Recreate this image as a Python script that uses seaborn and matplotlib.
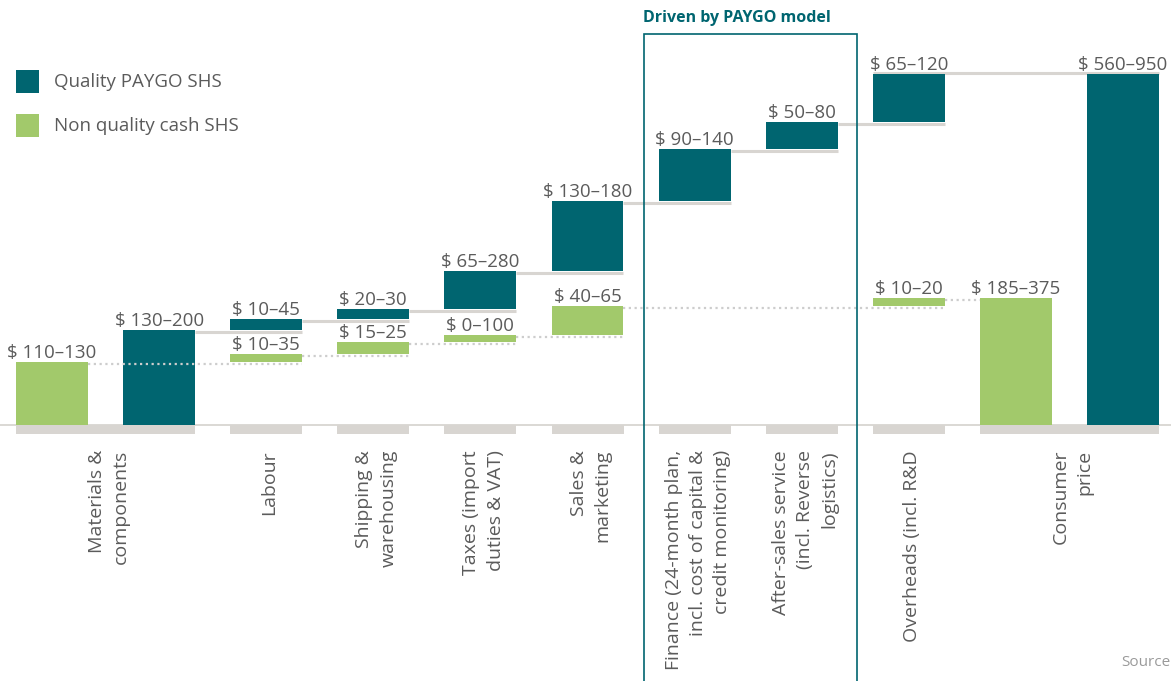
import numpy as np
import pandas as pd
import matplotlib
matplotlib.use("Agg")
import matplotlib.pyplot as plt
import seaborn as sns
from matplotlib.patches import Rectangle

# ---------------- data ----------------
categories = [
    "Materials &\ncomponents",
    "Labour",
    "Shipping &\nwarehousing",
    "Taxes (import\nduties & VAT)",
    "Sales &\nmarketing",
    "Finance (24-month plan,\nincl. cost of capital &\ncredit monitoring)",
    "After-sales service\n(incl. Reverse\nlogistics)",
    "Overheads (incl. R&D",
    "Consumer\nprice",
]
# bar heights as drawn in the chart (schematic units)
paygo_steps = [95, 11, 10, 38, 70, 52, 27, 48]
cash_steps = [63, 8, 12, 7, 29, 0, 0, 8]
paygo_labels = ["$ 130–200", "$ 10–45", "$ 20–30", "$ 65–280", "$ 130–180",
                "$ 90–140", "$ 50–80", "$ 65–120", "$ 560–950"]
cash_labels = ["$ 110–130", "$ 10–35", "$ 15–25", "$ 0–100", "$ 40–65",
               "", "", "$ 10–20", "$ 185–375"]
series_names = ["Quality PAYGO SHS", "Non quality cash SHS"]
box_title = "Driven by PAYGO model"
source_text = "Source"

# ---------------- layout ----------------
paygo_slot = [1, 2, 3, 4, 5, 6, 7, 8, 10]
cash_slot = [0, 2, 3, 4, 5, 6, 7, 8, 9]
label_slot = [0.5, 2, 3, 4, 5, 6, 7, 8, 9.5]

TEAL = "#006570"
GREEN = "#a2c96b"
GRAY = "#d8d5d1"
TXT = "#5b5b5b"

sns.set_theme(style="white")
plt.rcParams["font.family"] = ["Open Sans", "DejaVu Sans"]

fig = plt.figure(figsize=(11.71, 6.81), dpi=100)
ax = fig.add_axes([0, 0, 1, 1])

PX = 107.1
W = 72 / PX


def px_x(p):
    return (p - 52) / PX


def px_y(p):
    return 425 - p


def build(steps, slots, labels):
    rows = []
    level = 0.0
    for h, x, lab in zip(steps, slots[:-1], labels[:-1]):
        if h > 0:
            rows.append(dict(slot=x, height=h, bottom=level, label=lab, total=False))
        level += h
    rows.append(dict(slot=slots[-1], height=level, bottom=0.0, label=labels[-1], total=True))
    return pd.DataFrame(rows).sort_values("slot").reset_index(drop=True)


df_p = build(paygo_steps, paygo_slot, paygo_labels)
df_c = build(cash_steps, cash_slot, cash_labels)

# baseline + grey base blocks
ax.axhline(0, color=GRAY, lw=1.3, zorder=1)
base_x = [0.5] + [s for s in label_slot[1:-1]] + [9.5]
base_w = [1 + W] + [W] * (len(label_slot) - 2) + [1 + W]
ax.bar(base_x, [9] * len(base_x), bottom=-9, width=base_w, color=GRAY, zorder=2, linewidth=0)

# bars via seaborn
for df, col in [(df_p, TEAL), (df_c, GREEN)]:
    sns.barplot(data=df, x="slot", y="height", native_scale=True, width=W,
                color=col, saturation=1, errorbar=None, ax=ax, zorder=3, linewidth=0)
    cont = ax.containers[-1]
    for rect, b in zip(cont, df["bottom"]):
        rect.set_y(b)

# connectors: teal solid, green dotted
for i in range(len(df_p) - 1):
    a, b = df_p.iloc[i], df_p.iloc[i + 1]
    lvl = a.bottom + a.height
    if b.total:
        ax.plot([a.slot - W / 2, b.slot + W / 2], [lvl + 1.5, lvl + 1.5],
                color=GRAY, lw=2.2, zorder=2.5, solid_capstyle="butt")
    else:
        ax.plot([a.slot + W / 2, b.slot + W / 2], [lvl - 1.5, lvl - 1.5],
                color=GRAY, lw=2.2, zorder=2.5, solid_capstyle="butt")

for i in range(len(df_c) - 1):
    a, b = df_c.iloc[i], df_c.iloc[i + 1]
    lvl = a.bottom + a.height
    xe = b.slot - W / 2 if b.total else b.slot + W / 2
    ax.plot([a.slot + W / 2, xe], [lvl - 2, lvl - 2], color="#cdcdcd", lw=1.6,
            ls=(0, (1, 1.6)), zorder=4, dash_capstyle="butt")

# value labels
for df in (df_p, df_c):
    for _, r in df.iterrows():
        if r.label:
            ax.text(r.slot, r.bottom + r.height + 4, r.label, ha="center", va="baseline",
                    fontsize=13.5, color=TXT, zorder=5)

# category labels
for cat, s in zip(categories, label_slot):
    ax.text(s + 0.03, px_y(450), cat, rotation=90, ha="center", va="top",
            multialignment="right", fontsize=14, color=TXT, linespacing=1.45)

# PAYGO box
ax.add_patch(Rectangle((px_x(644), px_y(700)), px_x(857) - px_x(644), 700 - 34,
                       fill=False, edgecolor=TEAL, lw=1.2, zorder=6, clip_on=False))
ax.text(px_x(643), px_y(18), box_title, ha="left", va="center", fontsize=11.5,
        fontweight="bold", color=TEAL)

# legend
for k, (name, col) in enumerate(zip(series_names, [TEAL, GREEN])):
    top = 70 + 44 * k
    ax.add_patch(Rectangle((16 / 1171, 1 - (top + 23) / 681), 23 / 1171, 23 / 681,
                           transform=ax.transAxes, color=col, lw=0))
    ax.text(54 / 1171, 1 - (top + 12) / 681, name, transform=ax.transAxes,
            ha="left", va="center", fontsize=13.5, color=TXT)

ax.text(1121 / 1171, 1 - 662 / 681, source_text, transform=ax.transAxes,
        ha="left", va="center", fontsize=11, color="#9a9a9a")

ax.set_xlim(px_x(0), px_x(1171))
ax.set_ylim(px_y(681), px_y(0))
ax.axis("off")

fig.savefig("out.png", dpi=100)
